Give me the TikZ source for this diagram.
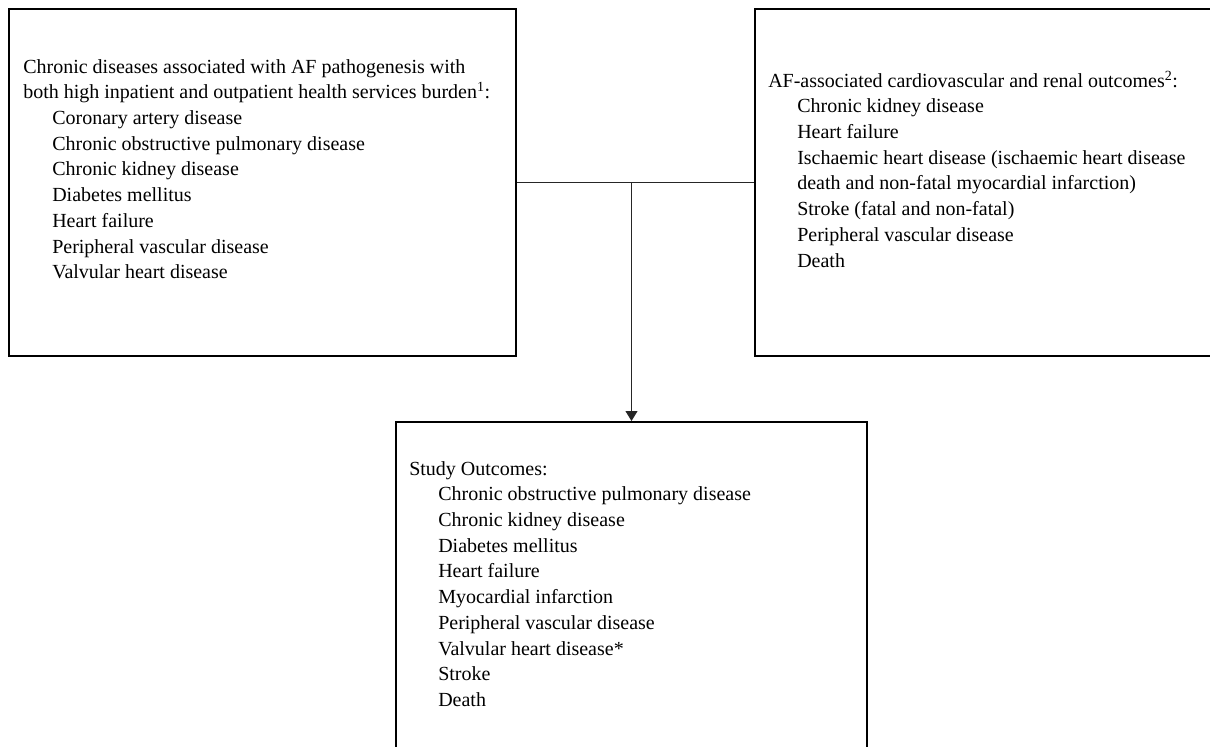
\documentclass[tikz,border=0pt]{standalone}
\usepackage{fontspec}
\setmainfont{Liberation Serif}
\usetikzlibrary{arrows.meta}
\newcommand{\itemgap}{\hspace*{21.75pt}}

\tikzset{
  box/.style={draw, line width=1.5pt, inner sep=0pt, anchor=north west},
  list/.style={anchor=base west, inner sep=0pt, font=\fontsize{15}{19.3}\selectfont},
  link/.style={line width=0.75pt, black!85},
}

\begin{document}
\begin{tikzpicture}[x=0.75pt,y=-0.75pt]
\useasboundingbox (0,0) rectangle (1210,746);
\clip (0,0) rectangle (1210,746);

\node (risk) [box, minimum width=380.25pt, minimum height=260.25pt] at (8,8) {};
\node (outc) [box, minimum width=360pt, minimum height=260.25pt] at (754,8) {};
\node (study) [box, minimum width=353.25pt, minimum height=260pt] at (395,421) {};

\node (risktext) [list] at ([shift={(15,65)}]risk.north west) {
\begin{tabular}[t]{@{}l@{}}
  Chronic diseases associated with AF pathogenesis with \\
  both high inpatient and outpatient health services burden\textsuperscript{1}: \\
  \itemgap Coronary artery disease \\
  \itemgap Chronic obstructive pulmonary disease \\
  \itemgap Chronic kidney disease \\
  \itemgap Diabetes mellitus \\
  \itemgap Heart failure \\
  \itemgap Peripheral vascular disease \\
  \itemgap Valvular heart disease \\
\end{tabular}
};

\node (outctext) [list] at ([shift={(14,79)}]outc.north west) {
\begin{tabular}[t]{@{}l@{}}
  AF-associated cardiovascular and renal outcomes\textsuperscript{2}: \\
  \itemgap Chronic kidney disease \\
  \itemgap Heart failure \\
  \itemgap Ischaemic heart disease (ischaemic heart disease \\
  \itemgap death and non-fatal myocardial infarction) \\
  \itemgap Stroke (fatal and non-fatal) \\
  \itemgap Peripheral vascular disease \\
  \itemgap Death \\
\end{tabular}
};

\node (studytext) [list] at ([shift={(14,54)}]study.north west) {
\begin{tabular}[t]{@{}l@{}}
  Study Outcomes: \\
  \itemgap Chronic obstructive pulmonary disease \\
  \itemgap Chronic kidney disease \\
  \itemgap Diabetes mellitus \\
  \itemgap Heart failure \\
  \itemgap Myocardial infarction \\
  \itemgap Peripheral vascular disease \\
  \itemgap Valvular heart disease* \\
  \itemgap Stroke \\
  \itemgap Death \\
\end{tabular}
};

\draw [link] (risk.east) -- (outc.west);
\draw [link, -{Triangle[width=9pt, length=7.5pt]}] (study.north |- risk.east) -- (study.north);
\end{tikzpicture}
\end{document}
